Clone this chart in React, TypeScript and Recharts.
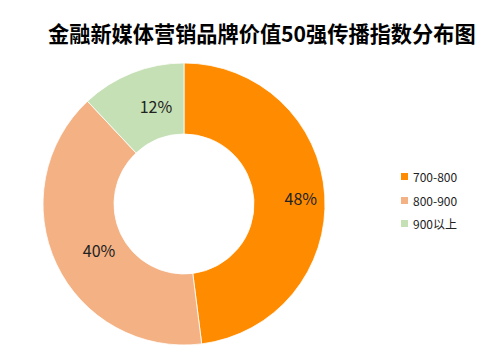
import { PieChart, Pie, Cell, Legend } from 'recharts'

const TITLE = '金融新媒体营销品牌价值50强传播指数分布图'
const categories = ['700-800', '800-900', '900以上']
const shares = [48, 40, 12]
const COLORS = ['#FF8C00', '#F4B183', '#C5E0B4']

const data = categories.map((name, i) => ({ name, value: shares[i] }))

const RAD = Math.PI / 180
const FONT = '"Noto Sans CJK SC", "Noto Sans", sans-serif'

// 标签放在环的中间位置（原图整体略偏右）
const renderLabel = (props: any) => {
  const { cx, cy, midAngle, value } = props
  const r = 106
  const x = cx + r * Math.cos(-midAngle * RAD) + 11
  const y = cy + r * Math.sin(-midAngle * RAD) + 1
  return (
    <text
      x={x}
      y={y}
      fill="#222"
      fontSize={16}
      fontFamily={FONT}
      textAnchor="middle"
      dominantBaseline="central"
    >
      {`${value}%`}
    </text>
  )
}

const renderLegend = () => (
  <div style={{ fontFamily: FONT, fontSize: 12, color: '#222' }}>
    {data.map((d, i) => (
      <div
        key={d.name}
        style={{ display: 'flex', alignItems: 'center', height: 23.5 }}
      >
        <span
          style={{
            width: 7,
            height: 7,
            background: COLORS[i],
            marginRight: 5,
            display: 'inline-block',
          }}
        />
        <span>{d.name}</span>
      </div>
    ))}
  </div>
)

export default function App() {
  return (
    <div
      style={{
        position: 'absolute',
        left: 0,
        top: 0,
        width: 494,
        height: 354,
        background: '#fff',
      }}
    >
      <div
        style={{
          position: 'absolute',
          left: 0,
          top: 20,
          width: 494,
          paddingLeft: 48,
          boxSizing: 'border-box',
          fontFamily: FONT,
          fontWeight: 700,
          fontSize: 21.2,
          lineHeight: '26px',
          color: '#000',
          whiteSpace: 'nowrap',
        }}
      >
        {TITLE}
      </div>
      <PieChart
        width={494}
        height={354}
        margin={{ top: 0, right: 0, bottom: 0, left: 0 }}
      >
        <Pie
          data={data}
          dataKey="value"
          nameKey="name"
          cx={184}
          cy={204}
          innerRadius={70}
          outerRadius={141}
          startAngle={90}
          endAngle={-270}
          stroke="#fff"
          strokeWidth={0.8}
          label={renderLabel}
          labelLine={false}
          isAnimationActive={false}
        >
          {data.map((d, i) => (
            <Cell key={d.name} fill={COLORS[i]} />
          ))}
        </Pie>
        <Legend
          layout="vertical"
          align="right"
          verticalAlign="top"
          content={renderLegend}
          wrapperStyle={{ left: 401, top: 165, width: 90 }}
        />
      </PieChart>
    </div>
  )
}
